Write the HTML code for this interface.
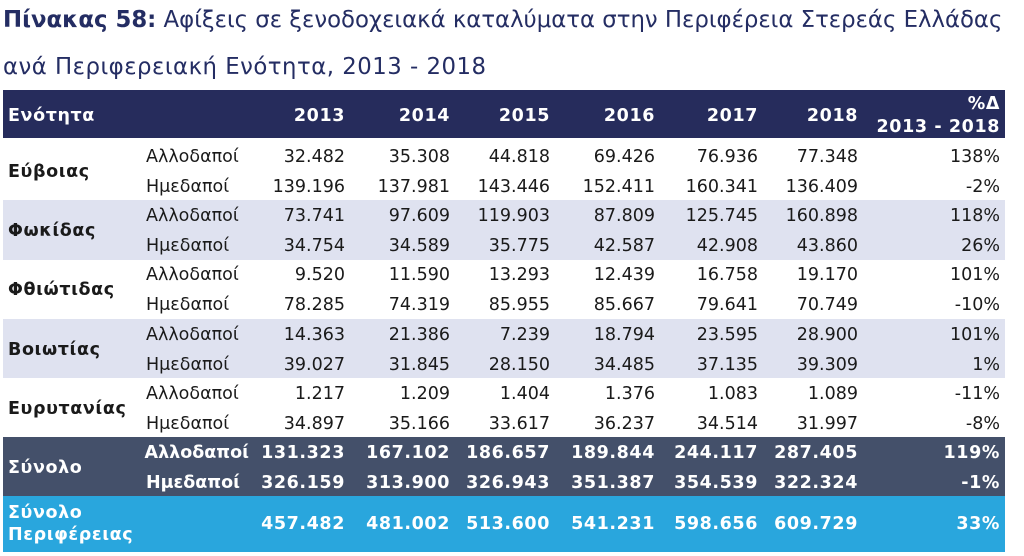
<!DOCTYPE html>
<html><head><meta charset="utf-8"><style>
body{margin:0;width:1024px;height:556px;background:#fff;font-family:"DejaVu Sans","Liberation Sans",sans-serif;position:relative;overflow:hidden}
.t{position:absolute;left:3px;font-size:22.8px;color:#242d63;white-space:nowrap}
.band{position:absolute;left:3px;width:1002px}
.c{position:absolute;white-space:nowrap;font-size:17.5px;color:#1a1a1a;line-height:20px}
.r{text-align:right}
.b{font-weight:bold;letter-spacing:0.6px}
.w{color:#fff}
.n{letter-spacing:0}
</style></head><body>
<div class="t" style="top:7px"><b>Πίνακας 58:</b> Αφίξεις σε ξενοδοχειακά καταλύματα στην Περιφέρεια Στερεάς Ελλάδας</div>
<div class="t" style="top:54px;letter-spacing:0.5px">ανά Περιφερειακή Ενότητα, 2013 - 2018</div>
<div class="band" style="top:90px;height:48px;background:#262c5c"></div>
<div class="band" style="top:200px;height:60px;background:#dfe2f0"></div>
<div class="band" style="top:319px;height:59px;background:#dfe2f0"></div>
<div class="band" style="top:437px;height:59px;background:#44506a"></div>
<div class="band" style="top:496px;height:56px;background:#29a6dd"></div>
<div id="g"></div>
<script>
var X=[345,450,550,655,758,858,1000];
var h='';
function cell(x,y,t,cls){h+='<div class="c r '+cls+'" style="right:'+(1024-x)+'px;top:'+y+'px">'+t+'</div>';}
function lab(x,y,t,cls){h+='<div class="c '+cls+'" style="left:'+x+'px;top:'+y+'px">'+t+'</div>';}
lab(8,106,'Ενότητα','b w');
['2013','2014','2015','2016','2017','2018'].forEach(function(t,i){cell(X[i],106,t,'b w');});
cell(X[6],94,'%Δ','b w');cell(X[6],117,'2013 - 2018','b w');
var G=[['Εύβοιας',['32.482','35.308','44.818','69.426','76.936','77.348','138%'],['139.196','137.981','143.446','152.411','160.341','136.409','-2%']],
['Φωκίδας',['73.741','97.609','119.903','87.809','125.745','160.898','118%'],['34.754','34.589','35.775','42.587','42.908','43.860','26%']],
['Φθιώτιδας',['9.520','11.590','13.293','12.439','16.758','19.170','101%'],['78.285','74.319','85.955','85.667','79.641','70.749','-10%']],
['Βοιωτίας',['14.363','21.386','7.239','18.794','23.595','28.900','101%'],['39.027','31.845','28.150','34.485','37.135','39.309','1%']],
['Ευρυτανίας',['1.217','1.209','1.404','1.376','1.083','1.089','-11%'],['34.897','35.166','33.617','36.237','34.514','31.997','-8%']]];
G.forEach(function(g,k){var y=147+k*59.2;
lab(8,y+15,g[0],'b');lab(146,y,'Αλλοδαποί','');lab(146,y+30,'Ημεδαποί','');
g[1].forEach(function(v,i){cell(X[i],y,v,'');});g[2].forEach(function(v,i){cell(X[i],y+30,v,'');});});
var y=443;
lab(8,y+15,'Σύνολο','b w');cell(249,y,'Αλλοδαποί','b w n');cell(240,y+30,'Ημεδαποί','b w n');
['131.323','167.102','186.657','189.844','244.117','287.405','119%'].forEach(function(v,i){cell(X[i],y,v,'b w');});
['326.159','313.900','326.943','351.387','354.539','322.324','-1%'].forEach(function(v,i){cell(X[i],y+30,v,'b w');});
lab(8,503,'Σύνολο','b w');lab(8,525,'Περιφέρειας','b w');
['457.482','481.002','513.600','541.231','598.656','609.729','33%'].forEach(function(v,i){cell(X[i],514,v,'b w');});
document.getElementById('g').innerHTML=h;
</script>
</body></html>
